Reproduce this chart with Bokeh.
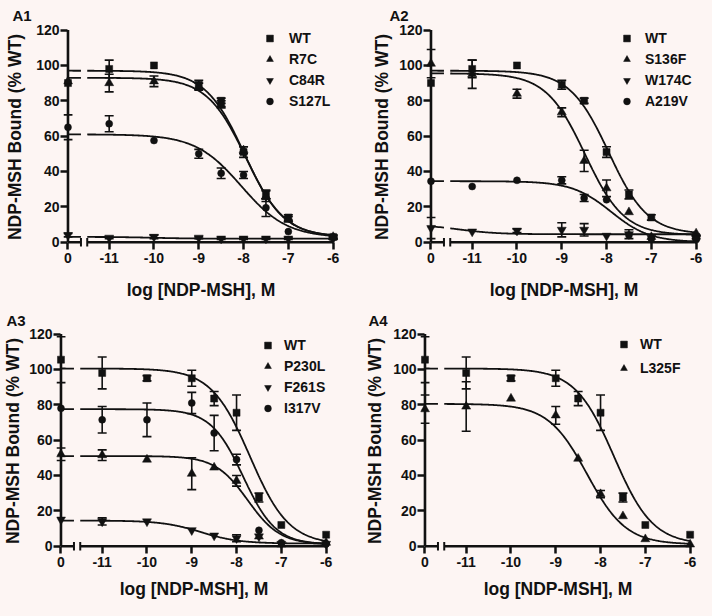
import numpy as np
from bokeh.plotting import figure
from bokeh.layouts import column, row
from bokeh.models import (ColumnDataSource, Range1d, FixedTicker, CustomJSTickFormatter,
                          Legend, LegendItem)
from bokeh.embed import file_html
from bokeh.resources import INLINE

# ---------------- data ----------------
# first entry of every series = control ("0" on the broken axis), then log doses
LOG_DOSE = [-11, -10, -9, -8.5, -8, -7.5, -7, -6]
X_TICKS_LOG = [-11, -10, -9, -8, -7, -6]
Y_TICKS = [0, 20, 40, 60, 80, 100, 120]

# Panel A1
A1_NAMES = ["WT", "R7C", "C84R", "S127L"]
A1_WT = [90, 98, 100, 89, 80, 51, 27, 14, 3]
A1_WT_SEM = [0, 5, 0, 2.5, 1.5, 3, 2.5, 1.5, 1]
A1_R7C = [91, 90, 91, 88, 78, 52, 26, 13, 3]
A1_R7C_SEM = [0, 5, 3, 2, 2, 2, 3, 1.5, 1]
A1_C84R = [4, 2.5, 3, 2.5, 2, 2, 2, 2, 2]
A1_C84R_SEM = [1, 0.5, 1, 0.5, 0.5, 0.5, 0.5, 0.5, 0.5]
A1_S127L = [65, 67, 57.5, 50, 39, 38, 19.5, 6, 3]
A1_S127L_SEM = [7, 4.5, 0, 2.5, 3, 2, 5, 0, 0]
A1_TOP = [97, 93, 3, 61]
A1_BOTTOM = [3, 3, 2, 2.5]
A1_LOGEC50 = [-7.98, -7.95, -10.0, -8.05]
A1_HILL = [1.0, 1.0, 1.0, 0.85]

# Panel A2
A2_NAMES = ["WT", "S136F", "W174C", "A219V"]
A2_WT = [90, 98, 100, 89, 80, 51, 27, 14, 3]
A2_WT_SEM = [0, 5, 0, 2.5, 1.5, 3, 2.5, 1.5, 1]
A2_S136F = [101, 95, 84, 73.5, 46, 30.5, 17, 3, 5]
A2_S136F_SEM = [8, 8, 2.5, 2.5, 6, 4.7, 0, 0, 0]
A2_W174C = [8, 6, 6.5, 7, 7, 3.6, 4.5, 2.5, 2]
A2_W174C_SEM = [6, 0, 1, 4, 3.5, 0, 2.5, 0, 0]
A2_A219V = [34.5, 31.5, 35, 35, 25, 24, 4, 2, 1.5]
A2_A219V_SEM = [0, 0, 0, 2, 2, 0, 0, 0, 0]
A2_TOP = [97, 95.5, 10, 34.5]
A2_BOTTOM = [4.5, 4, 4.5, 0]
A2_LOGEC50 = [-7.95, -8.48, -11.3, -7.9]
A2_HILL = [1.0, 1.0, 1.0, 1.0]

# Panel A3
A3_NAMES = ["WT", "P230L", "F261S", "I317V"]
A3_WT = [105.5, 98, 95, 95, 83.5, 75.5, 27.5, 12, 6.5]
A3_WT_SEM = [13, 9, 1.5, 4.5, 4, 10, 2.5, 0, 0]
A3_P230L = [52, 51.5, 49, 41, 44.5, 37, 5.5, 1, 2]
A3_P230L_SEM = [3.5, 3, 0, 9, 0, 3, 0, 0, 0]
A3_F261S = [15, 14, 14, 9, 6, 4.5, 5.5, 1.3, 1.3]
A3_F261S_SEM = [0, 2, 0, 0, 0, 2, 0, 0, 0]
A3_I317V = [78, 71.5, 71.5, 81, 64, 49, 9, 2, 1.3]
A3_I317V_SEM = [0, 7.5, 9.5, 6, 10, 3, 0, 0, 0]
A3_TOP = [100.5, 51, 14.5, 77.5]
A3_BOTTOM = [1, 1, 1.5, 1]
A3_LOGEC50 = [-7.7, -7.75, -8.8, -7.85]
A3_HILL = [1.0, 1.2, 1.0, 1.2]

# Panel A4
A4_NAMES = ["WT", "L325F"]
A4_WT = [105.5, 98, 95, 95, 83.5, 75.5, 27.5, 12, 6.5]
A4_WT_SEM = [13, 9, 1.5, 4.5, 4, 10, 2.5, 0, 0]
A4_L325F = [77.5, 79, 83.5, 74, 49.5, 29.5, 17, 4, 1]
A4_L325F_SEM = [8, 14, 0, 5, 0, 2, 0, 0, 0]
A4_TOP = [100.5, 80.5]
A4_BOTTOM = [1, 1]
A4_LOGEC50 = [-7.7, -8.3]
A4_HILL = [1.0, 1.0]

# ---------------- style ----------------
BG = "#fdf5f3"
INK = "#111111"
FONT = "Liberation Sans"
ZERO_POS = -11.92          # where the control ("0") sits on the broken axis
BREAK_LO, BREAK_HI = -11.63, -11.49
CAP = 0.1
MARKERS = ["square", "triangle", "inverted_triangle", "circle"]
SIZES = [7, 9, 9, 7]


def fit_curve(x, top, bottom, logec50, hill):
    return bottom + (top - bottom) / (1.0 + 10.0 ** (hill * (x - logec50)))


def make_panel(tag, names, means, sems, tops, bottoms, ec50s, hills, lay):
    p = figure(x_range=Range1d(-12.02, -5.88), y_range=Range1d(-3, 122),
               frame_width=275, frame_height=221,
               min_border_left=lay["left"], min_border_right=356 - 275 - lay["left"],
               min_border_top=lay["top"], min_border_bottom=308 - 221 - lay["top"],
               output_backend="svg", toolbar_location=None,
               background_fill_color=BG, border_fill_color=BG,
               outline_line_color=None)
    p.grid.visible = False

    # panel tag as a left-aligned title
    p.title.text = tag
    p.title.align = "left"
    p.title.offset = lay["tx"]
    p.title.standoff = lay["ts"]
    p.title.text_font = FONT
    p.title.text_font_style = "bold"
    p.title.text_font_size = "15px"
    p.title.text_color = INK

    # axes: ticks and labels from Bokeh, axis lines drawn at data 0
    xa = p.xaxis[0]
    xa.ticker = FixedTicker(ticks=[ZERO_POS] + X_TICKS_LOG, minor_ticks=[])
    xa.formatter = CustomJSTickFormatter(
        code="return (tick < -11.5) ? '0' : String(Math.round(tick));")
    ya = p.yaxis[0]
    ya.ticker = FixedTicker(ticks=Y_TICKS, minor_ticks=[])
    for ax in (xa, ya):
        ax.axis_line_color = None
        ax.major_tick_line_color = INK
        ax.major_tick_line_width = 2.5
        ax.minor_tick_line_color = None
        ax.major_label_text_font = FONT
        ax.major_label_text_font_style = "bold"
        ax.major_label_text_font_size = "14px"
        ax.major_label_text_color = INK
        ax.axis_label_text_font = FONT
        ax.axis_label_text_font_style = "bold"
        ax.axis_label_text_font_size = "17.5px"
        ax.axis_label_text_color = INK
    xa.major_tick_in = 5
    xa.major_tick_out = 2
    xa.major_label_standoff = 3
    xa.axis_label = "log [NDP-MSH], M"
    xa.axis_label_standoff = lay["xls"]
    ya.major_tick_in = 4
    ya.major_tick_out = 3
    ya.major_label_standoff = 1
    ya.axis_label = "NDP-MSH Bound (% WT)"
    ya.axis_label_standoff = lay["yls"]

    p.segment(x0=[ZERO_POS, BREAK_HI], y0=[0, 0], x1=[BREAK_LO, -6], y1=[0, 0],
              line_color=INK, line_width=2.6)
    p.segment(x0=[ZERO_POS], y0=[0], x1=[ZERO_POS], y1=[120],
              line_color=INK, line_width=2.6)
    p.segment(x0=[BREAK_LO, BREAK_HI], y0=[-2.4, -2.4], x1=[BREAK_LO, BREAK_HI],
              y1=[2.4, 2.4], line_color=INK, line_width=2)

    xs = [ZERO_POS] + LOG_DOSE
    items = []
    for i, name in enumerate(names):
        # fitted curve, interrupted at the axis break
        xl = np.linspace(ZERO_POS, BREAK_LO, 8)
        xr = np.linspace(BREAK_HI, -6, 300)
        p.multi_line(xs=[list(xl), list(xr)],
                     ys=[list(fit_curve(xl, tops[i], bottoms[i], ec50s[i], hills[i])),
                         list(fit_curve(xr, tops[i], bottoms[i], ec50s[i], hills[i]))],
                     line_color=INK, line_width=1.8)
        m, s = means[i], sems[i]
        ex = [x for x, e in zip(xs, s) if e > 0]
        lo = [v - e for v, e in zip(m, s) if e > 0]
        hi = [v + e for v, e in zip(m, s) if e > 0]
        if ex:
            eb = ColumnDataSource(dict(x=ex, lo=lo, hi=hi,
                                       c0=[x - CAP for x in ex], c1=[x + CAP for x in ex]))
            p.segment(x0="x", y0="lo", x1="x", y1="hi", source=eb, line_color=INK, line_width=1.6)
            p.segment(x0="c0", y0="lo", x1="c1", y1="lo", source=eb, line_color=INK, line_width=1.6)
            p.segment(x0="c0", y0="hi", x1="c1", y1="hi", source=eb, line_color=INK, line_width=1.6)
        src = ColumnDataSource(dict(x=xs, y=m))
        r = p.scatter("x", "y", source=src, marker=MARKERS[i], size=SIZES[i],
                      fill_color=INK, line_color=INK, line_width=0.5)
        items.append(LegendItem(label=name, renderers=[r]))

    leg = Legend(items=items, location=(lay["lx"], lay["ly"]), orientation="vertical",
                 glyph_width=17, glyph_height=20, label_height=20, spacing=lay["lsp"],
                 padding=0, margin=0, label_standoff=lay["lst"],
                 border_line_color=None, background_fill_alpha=0,
                 label_text_font=FONT, label_text_font_style="bold",
                 label_text_font_size="14px", label_text_color=INK)
    p.add_layout(leg)
    return p


L1 = dict(left=63, top=26, xls=14, yls=8, lx=198, ly=136, lsp=1, lst=11, tx=-51, ts=5)
L2 = dict(left=70, top=26, xls=14, yls=4, lx=192, ly=136, lsp=1, lst=10, tx=-37, ts=6)
L3 = dict(left=52, top=22, xls=9, yls=3, lx=203, ly=133, lsp=1, lst=8, tx=-50, ts=3)
L4 = dict(left=60, top=22, xls=9, yls=5, lx=195, ly=173, lsp=4, lst=8, tx=-52, ts=3)

p1 = make_panel("A1", A1_NAMES, [A1_WT, A1_R7C, A1_C84R, A1_S127L],
                [A1_WT_SEM, A1_R7C_SEM, A1_C84R_SEM, A1_S127L_SEM],
                A1_TOP, A1_BOTTOM, A1_LOGEC50, A1_HILL, L1)
p2 = make_panel("A2", A2_NAMES, [A2_WT, A2_S136F, A2_W174C, A2_A219V],
                [A2_WT_SEM, A2_S136F_SEM, A2_W174C_SEM, A2_A219V_SEM],
                A2_TOP, A2_BOTTOM, A2_LOGEC50, A2_HILL, L2)
p3 = make_panel("A3", A3_NAMES, [A3_WT, A3_P230L, A3_F261S, A3_I317V],
                [A3_WT_SEM, A3_P230L_SEM, A3_F261S_SEM, A3_I317V_SEM],
                A3_TOP, A3_BOTTOM, A3_LOGEC50, A3_HILL, L3)
p4 = make_panel("A4", A4_NAMES, [A4_WT, A4_L325F], [A4_WT_SEM, A4_L325F_SEM],
                A4_TOP, A4_BOTTOM, A4_LOGEC50, A4_HILL, L4)

p = column(row(p1, p2, spacing=0), row(p3, p4, spacing=0), spacing=0,
           styles={"background-color": BG})

open("out.html", "w").write(file_html(p, INLINE))
